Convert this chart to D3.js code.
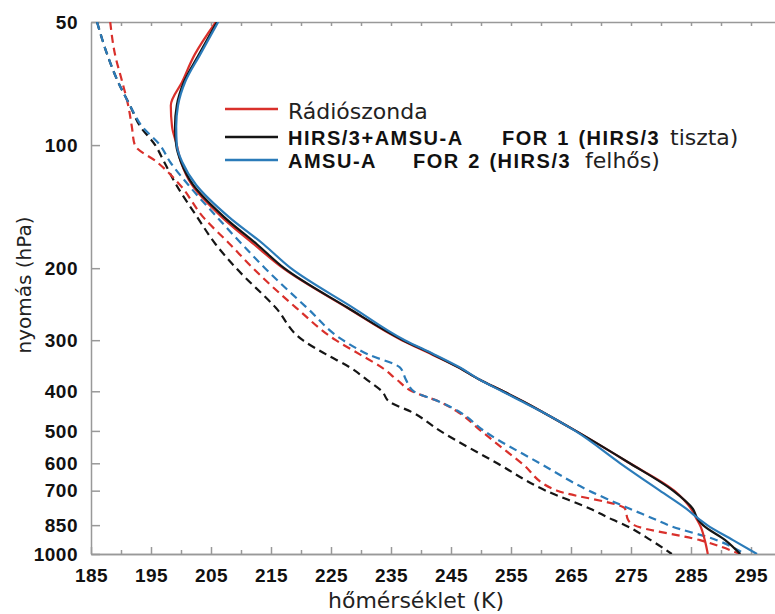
<!DOCTYPE html>
<html>
<head>
<meta charset="utf-8">
<script src="https://cdn.jsdelivr.net/npm/d3@7"></script>
<style>
  body { margin: 0; background: #fff; }
  .axis path, .axis line { stroke: #999; stroke-width: 1.5px; }
  .axis text { font-family: "Liberation Sans", Arial, sans-serif; font-weight: bold; font-size: 19px; fill: #111; letter-spacing: 0.5px; }
  .title { font-family: "DejaVu Sans", sans-serif; fill: #222; }
  .bold { font-family: "Liberation Sans", Arial, sans-serif; font-weight: bold; font-size: 20px; letter-spacing: 1.5px; word-spacing: 1.5px; fill: #111; }
</style>
</head>
<body>
<div id="chart"></div>
<script>
// pressure levels (hPa) shared by every profile
const pressureLevels = [50, 60, 70, 80, 90, 100, 110, 125, 150, 175, 200, 250, 300, 325, 350, 375, 400, 425, 450, 500, 600, 700, 775, 825, 850, 925, 1000];

// FOR 1 (HIRS/3 clear) - solid
const radioFor1 = [205.8, 202.3, 200.2, 198.3, 198.5, 199.3, 200.0, 201.8, 206.8, 212.2, 217.0, 227.7, 236.8, 241.8, 246.3, 249.8, 253.7, 257.2, 260.3, 265.8, 274.8, 282.2, 285.0, 286.0, 286.5, 287.3, 287.8];
const hirsFor1  = [206.0, 203.0, 200.5, 199.3, 199.0, 199.2, 200.0, 202.0, 207.2, 212.7, 217.2, 227.8, 237.0, 242.0, 246.3, 249.8, 253.7, 257.2, 260.3, 265.8, 274.8, 282.0, 285.3, 286.2, 287.0, 290.7, 293.2];
const amsuFor1  = [206.2, 203.2, 200.7, 199.5, 199.2, 199.3, 200.2, 202.5, 208.0, 213.8, 218.3, 228.7, 237.3, 242.2, 246.5, 249.8, 253.5, 257.0, 260.3, 265.7, 273.2, 279.8, 284.2, 286.5, 287.7, 292.0, 296.0];

// FOR 2 (HIRS/3 cloudy) - dashed
const radioFor2 = [188.2, 189.0, 190.2, 191.2, 191.8, 192.3, 196.0, 199.8, 203.7, 208.2, 212.0, 219.2, 225.8, 229.8, 233.5, 236.0, 238.5, 243.2, 246.2, 250.0, 256.8, 262.7, 274.0, 274.5, 275.5, 286.5, 293.2];
const hirsFor2  = [186.0, 187.7, 189.5, 191.5, 193.2, 195.7, 197.2, 199.2, 202.7, 205.8, 209.2, 215.8, 220.3, 224.2, 228.2, 231.0, 233.5, 234.8, 238.5, 243.2, 252.7, 260.8, 268.2, 272.0, 274.0, 278.3, 281.8];
const amsuFor2  = [186.0, 187.7, 189.5, 191.5, 193.5, 196.5, 198.2, 201.2, 206.0, 210.2, 214.0, 221.0, 227.0, 231.2, 236.5, 237.5, 238.8, 243.2, 246.5, 250.5, 259.8, 268.0, 274.8, 279.2, 281.2, 289.3, 294.0];

const xTicks = [185, 195, 205, 215, 225, 235, 245, 255, 265, 275, 285, 295];
const yTicks = [50, 100, 200, 300, 400, 500, 600, 700, 850, 1000];

function createProfileChart() {
    const w = 775;
    const h = 614;
    const left = 91, right = 775, top = 22, bottom = 554;

    const red = "#d9302b", black = "#151515", blue = "#2b7bb9";

    const series = [
        { id: "hirsFor2",  values: hirsFor2,  color: black, dash: "8,5" },
        { id: "radioFor2", values: radioFor2, color: red,   dash: "8,5" },
        { id: "amsuFor2",  values: amsuFor2,  color: blue,  dash: "8,5" },
        { id: "radioFor1", values: radioFor1, color: red,   dash: null },
        { id: "hirsFor1",  values: hirsFor1,  color: black, dash: null },
        { id: "amsuFor1",  values: amsuFor1,  color: blue,  dash: null }
    ];

    /* SCALES */
    const xScale = d3.scaleLinear().domain([185, 299]).range([left, right]);
    const yScale = d3.scaleLog().domain([50, 1000]).range([top, bottom]);

    const svg = d3.select("#chart")
        .append("svg")
        .attr("width", w)
        .attr("height", h);

    svg.append("clipPath")
        .attr("id", "plot-clip")
        .append("rect")
        .attr("x", left)
        .attr("y", top)
        .attr("width", right - left)
        .attr("height", bottom - top);

    /* AXES */
    // minor x ticks, bottom
    svg.append("g")
        .attr("class", "axis")
        .attr("transform", "translate(0," + bottom + ")")
        .call(d3.axisBottom(xScale)
            .tickValues(d3.range(190, 300, 10))
            .tickSizeInner(-4)
            .tickSizeOuter(0)
            .tickFormat(""));

    // top border with small ticks
    svg.append("g")
        .attr("class", "axis")
        .attr("transform", "translate(0," + top + ")")
        .call(d3.axisTop(xScale)
            .tickValues(d3.range(190, 300, 5))
            .tickSizeInner(-4)
            .tickSizeOuter(0)
            .tickFormat(""));

    svg.append("g")
        .attr("class", "axis")
        .attr("transform", "translate(0," + bottom + ")")
        .call(d3.axisBottom(xScale)
            .tickValues(xTicks)
            .tickSizeInner(-7)
            .tickSizeOuter(0)
            .tickPadding(15)
            .tickFormat(d3.format("d")));

    svg.append("g")
        .attr("class", "axis")
        .attr("transform", "translate(" + left + ",0)")
        .call(d3.axisLeft(yScale)
            .tickValues(yTicks)
            .tickSizeInner(-9)
            .tickSizeOuter(0)
            .tickPadding(13)
            .tickFormat(d3.format("d")));

    /* LINES */
    const line = d3.line()
        .curve(d3.curveMonotoneY)
        .x(function(d) { return xScale(d.t); })
        .y(function(d) { return yScale(d.p); });

    svg.append("g")
        .attr("clip-path", "url(#plot-clip)")
        .selectAll("path")
        .data(series)
        .enter()
        .append("path")
        .attr("class", function(d) { return "line-" + d.id; })
        .style("fill", "none")
        .style("stroke", function(d) { return d.color; })
        .style("stroke-width", "2.2px")
        .style("stroke-dasharray", function(d) { return d.dash; })
        .attr("d", function(d) {
            return line(d.values.map(function(t, i) { return { p: pressureLevels[i], t: t }; }));
        });

    /* LEGEND */
    const legend = svg.append("g");
    const rows = [
        { color: red,   y: 109 },
        { color: black, y: 137 },
        { color: blue,  y: 160 }
    ];
    legend.selectAll("line")
        .data(rows)
        .enter()
        .append("line")
        .attr("x1", 225).attr("x2", 278)
        .attr("y1", function(d) { return d.y; })
        .attr("y2", function(d) { return d.y; })
        .style("stroke", function(d) { return d.color; })
        .style("stroke-width", "2.5px");

    legend.append("text").attr("class", "title")
        .attr("x", 288).attr("y", 119)
        .style("font-size", "22px")
        .text("Rádiószonda");
    legend.append("text").attr("class", "bold").attr("x", 288).attr("y", 145).text("HIRS/3+AMSU-A");
    legend.append("text").attr("class", "bold").attr("x", 502).attr("y", 145).text("FOR 1 (HIRS/3");
    legend.append("text").attr("class", "title")
        .attr("x", 670).attr("y", 145)
        .style("font-size", "22px")
        .text("tiszta)");
    legend.append("text").attr("class", "bold").attr("x", 288).attr("y", 168).text("AMSU-A");
    legend.append("text").attr("class", "bold").attr("x", 413).attr("y", 168).text("FOR 2 (HIRS/3");
    legend.append("text").attr("class", "title")
        .attr("x", 585).attr("y", 168)
        .style("font-size", "22px")
        .text("felhős)");

    /* AXIS TITLES */
    svg.append("text")
        .attr("class", "title")
        .attr("transform", "translate(31,285) rotate(-90)")
        .style("text-anchor", "middle")
        .style("font-size", "20px")
        .text("nyomás (hPa)");

    svg.append("text")
        .attr("class", "title")
        .attr("x", 416)
        .attr("y", 608)
        .style("text-anchor", "middle")
        .style("font-size", "22px")
        .text("hőmérséklet (K)");
}

function main() {
    createProfileChart();
}

main();
</script>
</body>
</html>
